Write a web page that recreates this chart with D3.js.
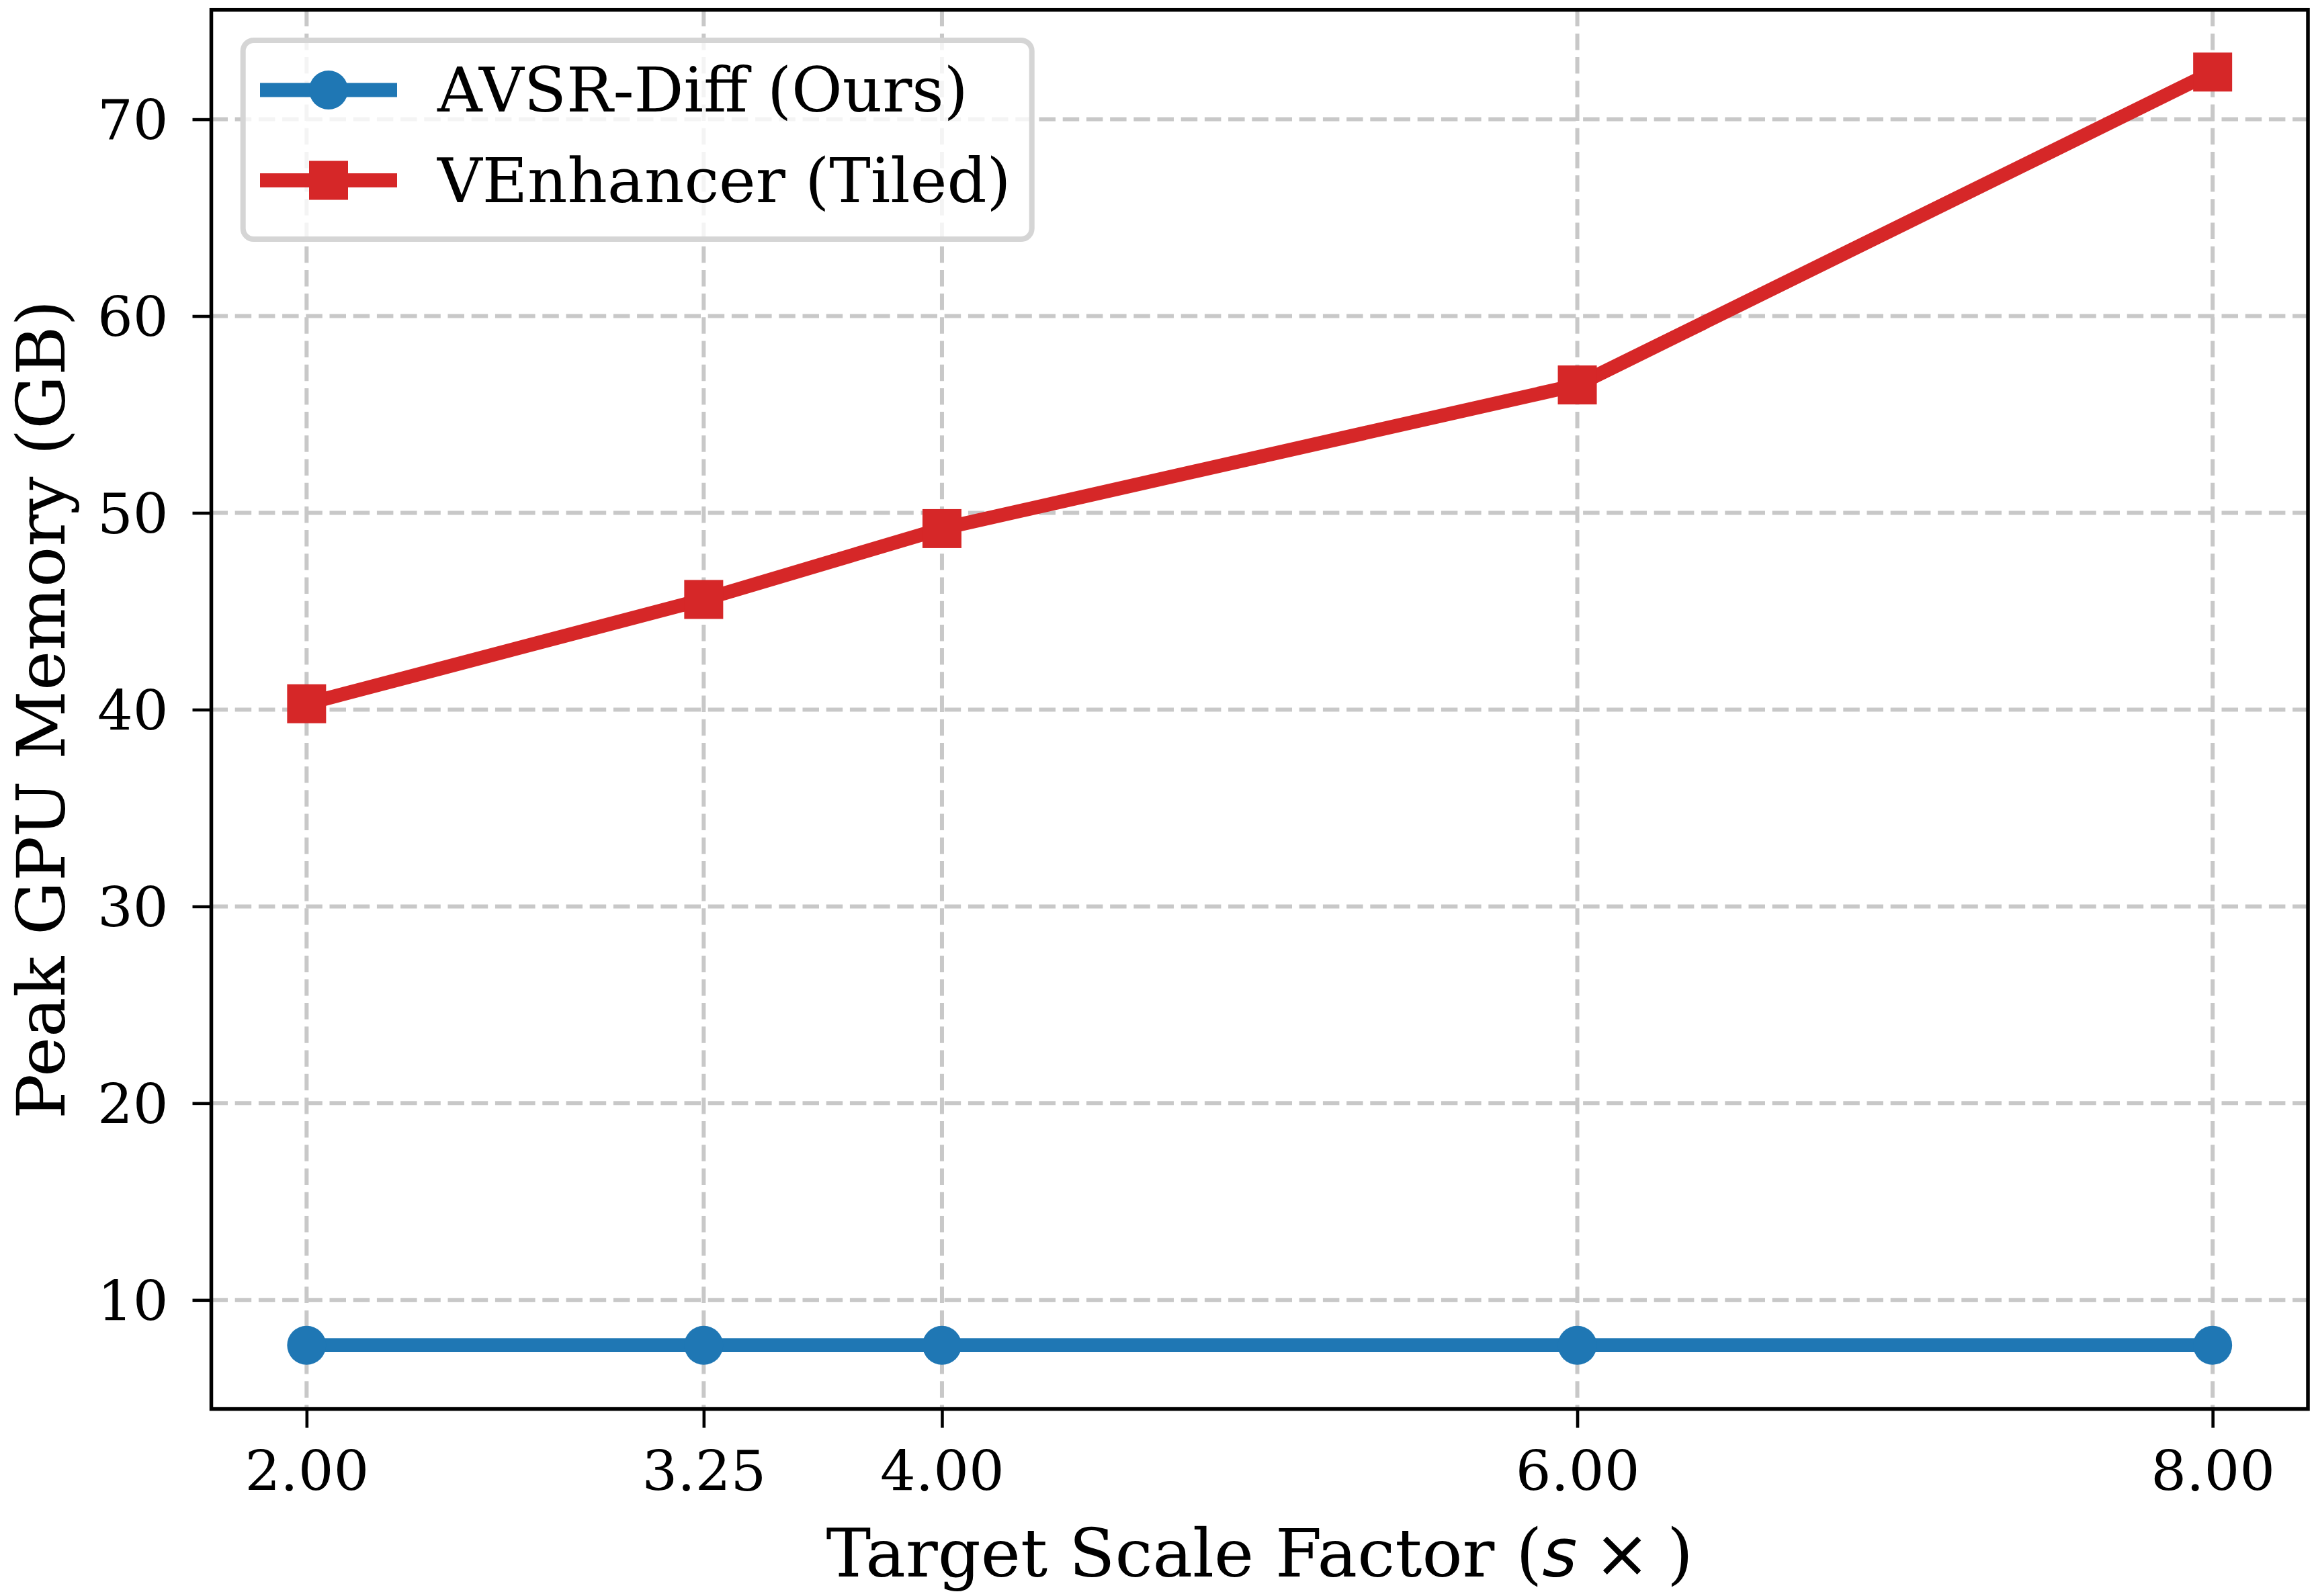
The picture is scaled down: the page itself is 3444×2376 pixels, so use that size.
<!DOCTYPE html>
<html>
<head>
<meta charset="utf-8">
<script src="https://cdn.jsdelivr.net/npm/d3@7"></script>
<style>
  body { margin: 0; background: #fff; }
  text { font-family: "DejaVu Serif", serif; fill: #000; }
</style>
</head>
<body>
<div id="chart"></div>
<script>
// data
const scaleFactors = [2.00, 3.25, 4.00, 6.00, 8.00];
const xTickLabels = ["2.00", "3.25", "4.00", "6.00", "8.00"];
const avsrMemory = [7.7, 7.7, 7.7, 7.7, 7.7];
const venhancerMemory = [40.3, 45.6, 49.2, 56.5, 72.4];
const yTicks = [10, 20, 30, 40, 50, 60, 70];
const seriesNames = ["AVSR-Diff (Ours)", "VEnhancer (Tiled)"];

const W = 3444, H = 2376;
const margin = {left: 314.5, right: 9, top: 14.7, bottom: 278.4};
const width = W - margin.left - margin.right,
      height = H - margin.top - margin.bottom;

const svg = d3.select("#chart").append("svg")
    .attr("width", W).attr("height", H);

const g = svg.append("g")
    .attr("transform", `translate(${margin.left},${margin.top})`);

const x = d3.scaleLinear().domain([1.7, 8.3]).range([0, width]);
const y = d3.scaleLinear().domain([4.46, 75.56]).range([height, 0]);

// grid
const gridColor = "#c8c8c8";
g.append("g").selectAll("line").data(scaleFactors).enter().append("line")
    .attr("x1", d => x(d)).attr("x2", d => x(d))
    .attr("y1", 0).attr("y2", height)
    .attr("stroke", gridColor).attr("stroke-width", 6)
    .attr("stroke-dasharray", "24.5,10.7");
g.append("g").selectAll("line").data(yTicks).enter().append("line")
    .attr("y1", d => y(d)).attr("y2", d => y(d))
    .attr("x1", 0).attr("x2", width)
    .attr("stroke", gridColor).attr("stroke-width", 6)
    .attr("stroke-dasharray", "24.5,10.7");

// axes
const xAxis = g.append("g")
    .attr("transform", `translate(0,${height})`)
    .call(d3.axisBottom(x).tickValues(scaleFactors)
        .tickFormat((d, i) => xTickLabels[i]).tickSize(28).tickPadding(34));
const yAxis = g.append("g")
    .call(d3.axisLeft(y).tickValues(yTicks).tickSize(28).tickPadding(36));

[xAxis, yAxis].forEach(a => {
    a.select(".domain").remove();
    a.selectAll(".tick line").attr("stroke", "#000").attr("stroke-width", 4.6);
    a.selectAll(".tick text")
        .style("font-family", "DejaVu Serif").style("font-size", "83px").attr("fill", "#000");
});
xAxis.selectAll(".tick text").attr("dy", "0.71em");
yAxis.selectAll(".tick text").attr("dy", "0.36em");

// lines
const line = d3.line().x(d => x(d[0])).y(d => y(d[1]));
const blue = "#1f77b4", red = "#d62728";

const avsr = scaleFactors.map((s, i) => [s, avsrMemory[i]]);
const venh = scaleFactors.map((s, i) => [s, venhancerMemory[i]]);

g.append("path").datum(avsr).attr("d", line)
    .attr("fill", "none").attr("stroke", blue).attr("stroke-width", 20.8)
    .attr("stroke-linejoin", "round");
g.selectAll(".dot").data(avsr).enter().append("circle")
    .attr("cx", d => x(d[0])).attr("cy", d => y(d[1])).attr("r", 29)
    .attr("fill", blue);

g.append("path").datum(venh).attr("d", line)
    .attr("fill", "none").attr("stroke", red).attr("stroke-width", 20.8)
    .attr("stroke-linejoin", "round");
g.selectAll(".sq").data(venh).enter().append("rect")
    .attr("x", d => x(d[0]) - 29).attr("y", d => y(d[1]) - 29)
    .attr("width", 58).attr("height", 58)
    .attr("fill", red);

// frame
g.append("rect").attr("width", width).attr("height", height)
    .attr("fill", "none").attr("stroke", "#000").attr("stroke-width", 5.5);

// legend
const legend = svg.append("g");
legend.append("rect")
    .attr("x", 361.7).attr("y", 60).attr("width", 1174).attr("height", 296)
    .attr("rx", 16).attr("ry", 16)
    .attr("fill", "#fff").attr("fill-opacity", 0.8)
    .attr("stroke", "#d5d5d5").attr("stroke-width", 8);

const rows = [
    {name: seriesNames[0], color: blue, shape: "circle"},
    {name: seriesNames[1], color: red, shape: "square"}
];
rows.forEach((r, i) => {
    const cy = 134 + i * 134.5;
    legend.append("line").attr("x1", 387).attr("x2", 591)
        .attr("y1", cy).attr("y2", cy)
        .attr("stroke", r.color).attr("stroke-width", 20.8);
    if (r.shape === "circle") {
        legend.append("circle").attr("cx", 489).attr("cy", cy).attr("r", 29).attr("fill", r.color);
    } else {
        legend.append("rect").attr("x", 460).attr("y", cy - 29)
            .attr("width", 58).attr("height", 58).attr("fill", r.color);
    }
    legend.append("text").attr("x", 651).attr("y", cy + 32)
        .style("font-size", "92.3px").text(r.name);
});

// axis labels
const xl = svg.append("text")
    .attr("x", margin.left + width / 2).attr("y", 2347)
    .attr("text-anchor", "middle").style("font-size", "100px");
xl.append("tspan").text("Target Scale Factor (");
xl.append("tspan").style("font-family", "DejaVu Sans").style("font-style", "italic").text("s");
xl.append("tspan").style("font-family", "DejaVu Sans").text("\u2005\u00d7\u2005");
xl.append("tspan").text(")");

svg.append("text")
    .attr("transform", `translate(96,${margin.top + height / 2}) rotate(-90)`)
    .attr("text-anchor", "middle").style("font-size", "100px")
    .text("Peak GPU Memory (GB)");
</script>
</body>
</html>
